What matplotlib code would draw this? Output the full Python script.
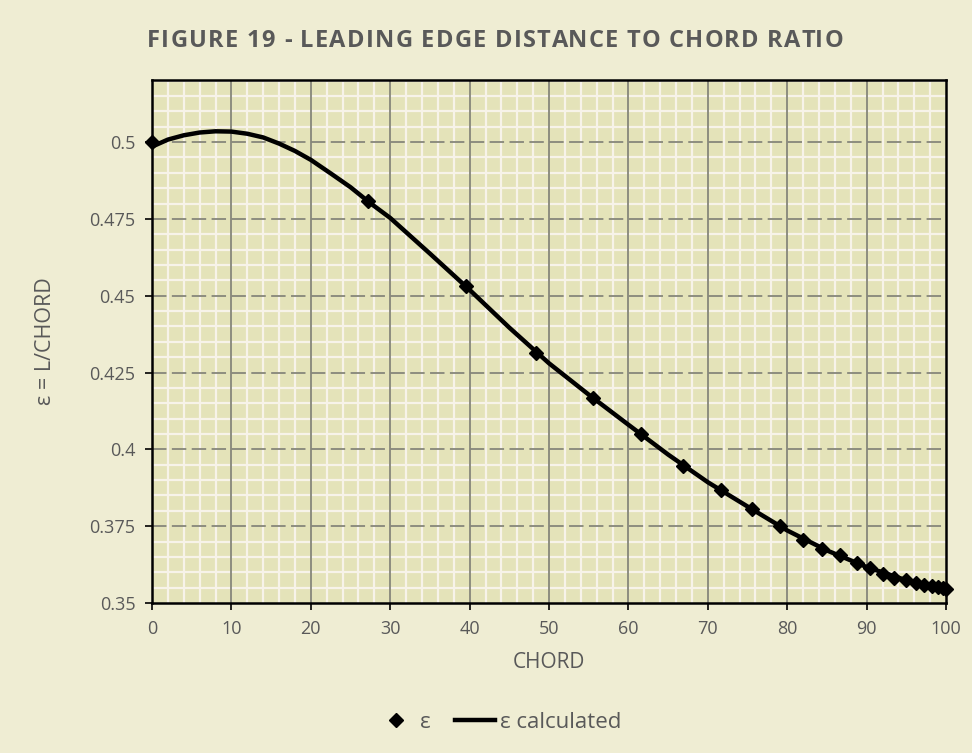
import matplotlib
matplotlib.use("Agg")
import matplotlib.pyplot as plt
from matplotlib.ticker import MultipleLocator, FixedLocator
from matplotlib.lines import Line2D

# ---- data ----
point_x = [0, 27.2, 39.5, 48.4, 55.5, 61.6, 66.9, 71.6, 75.6, 79.1, 82.0, 84.4,
           86.6, 88.8, 90.4, 92.0, 93.4, 94.9, 96.2, 97.2, 98.2, 99.0, 99.6, 100]
point_y = [0.5, 0.4807, 0.4531, 0.4314, 0.4168, 0.4049, 0.3947, 0.3867, 0.3805,
           0.3750, 0.3706, 0.3677, 0.3656, 0.3631, 0.3613, 0.3596, 0.3582, 0.3575,
           0.3566, 0.3560, 0.3555, 0.3551, 0.3549, 0.3547]

calc_x = [0, 2, 4, 6, 8, 10, 12, 14, 16, 18, 20, 22.5, 25, 27.5, 30, 35, 40, 45,
          50, 55, 60, 65, 70, 75, 80, 85, 90, 95, 100]
calc_y = [0.4985, 0.5008, 0.5022, 0.5031, 0.5035, 0.5034, 0.5027, 0.5015, 0.4995,
          0.4971, 0.4942, 0.4898, 0.4853, 0.4801, 0.4753, 0.4637, 0.4519, 0.4396,
          0.4280, 0.4178, 0.4080, 0.3983, 0.3893, 0.3814, 0.3736, 0.3671, 0.3617,
          0.3574, 0.3547]

x_ticks = [0, 10, 20, 30, 40, 50, 60, 70, 80, 90, 100]
y_ticks = [0.35, 0.375, 0.4, 0.425, 0.45, 0.475, 0.5]
y_tick_labels = ["0.35", "0.375", "0.4", "0.425", "0.45", "0.475", "0.5"]

title = "FIGURE 19 - LEADING EDGE DISTANCE TO CHORD RATIO"
x_label = "CHORD"
y_label = "ε = L/CHORD"
legend_labels = ["ε", "ε calculated"]

# ---- style ----
FIG_BG = "#efedd3"
AX_BG = "#e4e3b9"
TEXT = "#595959"
MINOR = "#f7f3e9"
MAJOR = "#86867a"
FONT = "Open Sans"

plt.rcParams["font.family"] = [FONT, "DejaVu Sans"]

fig = plt.figure(figsize=(9.72, 7.53), dpi=100, facecolor=FIG_BG)
ax = fig.add_axes([0.1564, 0.1992, 0.8169, 0.6946])
ax.set_facecolor(AX_BG)

ax.set_xlim(0, 100)
ax.set_ylim(0.35, 0.5202)

ax.xaxis.set_major_locator(FixedLocator(x_ticks))
ax.yaxis.set_major_locator(FixedLocator(y_ticks))
ax.xaxis.set_minor_locator(MultipleLocator(2))
ax.yaxis.set_minor_locator(MultipleLocator(0.005))
ax.set_yticklabels(y_tick_labels)

ax.grid(which="minor", color=MINOR, linewidth=1.6)
ax.set_axisbelow(True)
for xv in x_ticks[1:-1]:
    ax.axvline(xv, color=MAJOR, linewidth=1.3, zorder=1)
for yv in y_ticks[1:]:
    ax.axhline(yv, color=MAJOR, linewidth=1.3, linestyle=(0, (8, 3)), zorder=1)

ax.tick_params(which="minor", length=0)
ax.tick_params(which="major", direction="out", length=5, width=1.2, color="black",
               labelsize=13, labelcolor=TEXT, pad=7)
for s in ax.spines.values():
    s.set_color("black")
    s.set_linewidth(1.8)

ax.plot(calc_x, calc_y, color="black", linewidth=3.2, solid_capstyle="round",
        zorder=3, clip_on=False)
ax.plot(point_x, point_y, linestyle="none", marker="D", markersize=7,
        color="black", zorder=4, clip_on=False)

ax.set_xlabel(x_label, fontsize=15, color=TEXT, labelpad=10)
ax.set_ylabel(y_label, fontsize=15.5, color=TEXT, labelpad=24)

# ---- letter-spaced title ----
renderer = fig.canvas.get_renderer()
tkw = dict(fontsize=17, fontweight="bold", color=TEXT)
probe = fig.text(0, 0, "|", **tkw)
bar_w = probe.get_window_extent(renderer).width
def prefix_width(s):
    probe.set_text(s + "|")
    return probe.get_window_extent(renderer).width - bar_w
target_left, target_right = 147.0, 843.0
natural = prefix_width(title)
n_gap = len(title) - 1
spacing = (target_right - target_left - natural) / n_gap
W, H = fig.bbox.width, fig.bbox.height
for i, ch in enumerate(title):
    xpix = target_left + prefix_width(title[:i]) + i * spacing
    fig.text(xpix / W, 0.946, ch, ha="left", va="center", **tkw)
probe.remove()

handles = [
    Line2D([], [], linestyle="none", marker="D", markersize=7, color="black"),
    Line2D([], [], color="black", linewidth=3.2),
]
fig.legend(handles, legend_labels, loc="center", bbox_to_anchor=(0.513, 0.041),
           ncol=2, frameon=False, fontsize=16, labelcolor=TEXT,
           handlelength=1.8, handletextpad=0.2, columnspacing=1.1)

fig.savefig("out.png", dpi=100, facecolor=FIG_BG)
